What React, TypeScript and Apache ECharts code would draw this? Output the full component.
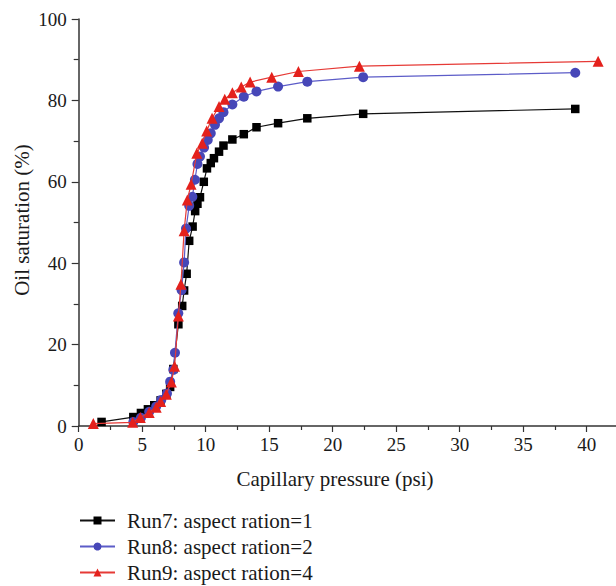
import React, { useEffect, useRef } from "react";
import * as echarts from "echarts";

const seriesNames = ["Run7: aspect ration=1", "Run8: aspect ration=2", "Run9: aspect ration=4"];

const run7: [number, number][] = [
  [1.8, 1.0], [4.3, 2.2], [4.9, 3.2], [5.45, 4.1], [5.95, 5.1], [6.45, 6.3], [6.9, 7.9], [7.2, 9.6],
  [7.45, 14.0], [7.85, 25.0], [8.15, 29.5], [8.3, 33.3], [8.5, 37.4], [8.7, 45.5], [8.97, 49.0],
  [9.17, 52.8], [9.35, 54.6], [9.55, 56.2], [9.85, 60.0], [10.1, 63.3], [10.4, 64.6], [10.65, 65.8],
  [11.05, 67.4], [11.4, 68.9], [12.1, 70.4], [13.0, 71.7], [14.0, 73.4], [15.7, 74.4], [18.0, 75.6],
  [22.4, 76.7], [39.1, 77.9],
];

const run8: [number, number][] = [
  [4.3, 1.0], [4.9, 2.0], [5.55, 3.5], [6.1, 4.8], [6.5, 6.4], [6.95, 8.0], [7.2, 10.9], [7.45, 13.8],
  [7.58, 18.0], [7.84, 27.7], [8.1, 33.4], [8.3, 40.2], [8.45, 48.5], [8.7, 54.1], [8.95, 56.3],
  [9.15, 60.5], [9.35, 64.4], [9.55, 66.2], [9.87, 68.4], [10.16, 70.3], [10.4, 71.9], [10.73, 74.0],
  [11.05, 75.6], [11.4, 77.1], [12.1, 79.0], [13.0, 80.9], [14.0, 82.2], [15.7, 83.4], [18.0, 84.6],
  [22.4, 85.7], [39.1, 86.8],
];

const run9: [number, number][] = [
  [1.15, 0.6], [4.25, 0.9], [4.85, 2.1], [5.55, 3.3], [6.1, 4.6], [6.45, 6.0], [6.9, 7.8], [7.3, 10.8],
  [7.55, 14.7], [7.85, 27.0], [8.05, 34.8], [8.3, 48.0], [8.55, 55.5], [8.85, 59.4], [9.3, 67.0],
  [9.73, 69.5], [10.08, 72.5], [10.5, 75.6], [11.05, 78.5], [11.5, 80.3], [12.1, 81.9], [12.8, 83.3],
  [13.5, 84.5], [15.2, 85.7], [17.3, 87.1], [22.1, 88.4], [40.9, 89.6],
];

const xTitle = "Capillary pressure (psi)";
const yTitle = "Oil saturation (%)";
const xLastLabel = 40;

const FONT = "'Liberation Serif', 'DejaVu Serif', serif";
const AXIS_COLOR = "#333";
const TEXT_COLOR = "#1a1a1a";

export default function App() {
  const ref = useRef<HTMLDivElement>(null);

  useEffect(() => {
    if (!ref.current) return;
    const chart = echarts.init(ref.current, undefined, { renderer: "svg" });

    const axisCommon = {
      axisLine: { show: true, onZero: false, lineStyle: { color: AXIS_COLOR, width: 1.5 } },
      axisTick: { show: true, inside: false, length: 6, lineStyle: { color: AXIS_COLOR, width: 1.2 } },
      minorTick: { show: true, splitNumber: 2, length: 4, lineStyle: { color: AXIS_COLOR, width: 1.2 } },
      splitLine: { show: false },
      minorSplitLine: { show: false },
      axisLabel: { fontFamily: FONT, fontSize: 19, color: TEXT_COLOR },
    };

    chart.setOption({
      animation: false,
      backgroundColor: "#ffffff",
      grid: { left: 78.7, top: 19, width: 571.5, height: 407, containLabel: false },
      xAxis: {
        type: "value",
        min: 0,
        max: 45,
        interval: 5,
        ...axisCommon,
        axisLabel: {
          ...axisCommon.axisLabel,
          margin: 9,
          formatter: (v: number) => (v > xLastLabel ? "" : String(v)),
        },
      },
      yAxis: {
        type: "value",
        min: 0,
        max: 100,
        interval: 20,
        ...axisCommon,
        axisTick: { ...axisCommon.axisTick, length: 7 },
        minorTick: { ...axisCommon.minorTick, length: 5 },
        axisLabel: { ...axisCommon.axisLabel, margin: 12 },
      },
      legend: {
        orient: "vertical",
        left: 79,
        top: 510,
        padding: 0,
        itemWidth: 35,
        itemHeight: 10,
        itemGap: 5,
        textStyle: {
          fontFamily: FONT,
          fontSize: 21,
          color: TEXT_COLOR,
          lineHeight: 21,
          padding: [0, 0, 0, 7],
        },
        data: seriesNames,
      },
      graphic: [
        {
          type: "text",
          x: 335,
          y: 479,
          style: {
            text: xTitle,
            fontFamily: FONT,
            fontSize: 21,
            fill: TEXT_COLOR,
            textAlign: "center",
            textVerticalAlign: "middle",
          },
        },
        {
          type: "text",
          x: 22,
          y: 220,
          rotation: Math.PI / 2,
          style: {
            text: yTitle,
            fontFamily: FONT,
            fontSize: 21,
            fill: TEXT_COLOR,
            textAlign: "center",
            textVerticalAlign: "middle",
          },
        },
      ],
      series: [
        {
          name: seriesNames[0],
          type: "line",
          data: run7,
          symbol: "rect",
          symbolSize: 8.5,
          itemStyle: { color: "#000000" },
          lineStyle: { color: "#111111", width: 1.2 },
          z: 2,
        },
        {
          name: seriesNames[1],
          type: "line",
          data: run8,
          symbol: "circle",
          symbolSize: 10,
          itemStyle: { color: "#4747b8" },
          lineStyle: { color: "#5c5cc8", width: 1.2 },
          z: 3,
        },
        {
          name: seriesNames[2],
          type: "line",
          data: run9,
          symbol: "triangle",
          symbolSize: 11,
          itemStyle: { color: "#e4211c" },
          lineStyle: { color: "#e63a36", width: 1.2 },
          z: 4,
        },
      ],
    });

    return () => chart.dispose();
  }, []);

  return (
    <div
      style={{
        position: "absolute",
        left: 0,
        top: 0,
        width: 616,
        height: 586,
        overflow: "hidden",
      }}
    >
      <div ref={ref} style={{ width: 680, height: 640 }} />
    </div>
  );
}
